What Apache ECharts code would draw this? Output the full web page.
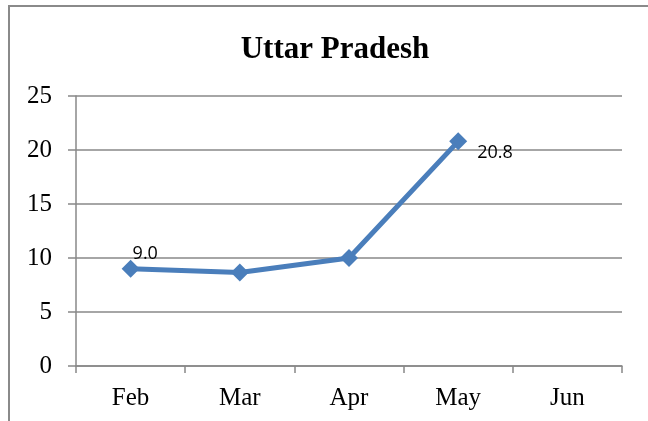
<!DOCTYPE html>
<html><head><meta charset="utf-8">
<script src="https://cdn.jsdelivr.net/npm/echarts@6/dist/echarts.min.js"></script>
<style>html,body{margin:0;padding:0;background:#fff}#c{width:648px;height:421px}</style>
</head><body><div id="c"></div>
<script>
const categories = ['Feb', 'Mar', 'Apr', 'May', 'Jun'];
const values = [9.0, 8.65, 10.0, 20.8, null];
const labelledIdx = [0, 3];
const yTicks = [0, 5, 10, 15, 20, 25];

const chart = echarts.init(document.getElementById('c'), null, {renderer: 'canvas'});
chart.setOption({
  animation: false,
  backgroundColor: '#fff',
  title: {
    text: 'Uttar Pradesh', left: 330, top: 29, textAlign: 'center',
    textStyle: {fontFamily: 'Liberation Serif', fontWeight: 'bold', fontSize: 31, color: '#000'}
  },
  graphic: [
    {type: 'line', shape: {x1: 9, y1: 6, x2: 648, y2: 6}, style: {stroke: '#8a8a8a', lineWidth: 2}},
    {type: 'line', shape: {x1: 9, y1: 5, x2: 9, y2: 421}, style: {stroke: '#8a8a8a', lineWidth: 2}}
  ],
  grid: {left: 76, right: 26, top: 96, bottom: 55},
  xAxis: {
    type: 'category', data: categories, boundaryGap: true,
    axisLine: {lineStyle: {color: '#888', width: 1.5}},
    axisTick: {show: true, length: 7, lineStyle: {color: '#888', width: 1.5}},
    axisLabel: {fontFamily: 'Liberation Serif', fontSize: 25, color: '#000', margin: 20}
  },
  yAxis: {
    type: 'value', min: yTicks[0], max: yTicks[yTicks.length - 1], interval: 5,
    axisLine: {show: true, lineStyle: {color: '#888', width: 1.5}},
    axisTick: {show: true, length: 8, lineStyle: {color: '#888', width: 1.5}},
    splitLine: {lineStyle: {color: '#888', width: 1.5}},
    axisLabel: {fontFamily: 'Liberation Serif', fontSize: 25, color: '#000', margin: 24}
  },
  series: [{
    type: 'line',
    data: values.map((v, i) => ({
      value: v,
      label: labelledIdx.includes(i) ? {
        show: true,
        position: i === 0 ? [11, -15] : [28, 12],
        formatter: p => p.value.toFixed(1)
      } : {show: false}
    })),
    symbol: 'diamond', symbolSize: 18,
    lineStyle: {color: '#4a7ebb', width: 5},
    itemStyle: {color: '#4a7ebb'},
    label: {fontFamily: 'Open Sans', fontSize: 18, color: '#000'}
  }]
});
</script></body></html>
